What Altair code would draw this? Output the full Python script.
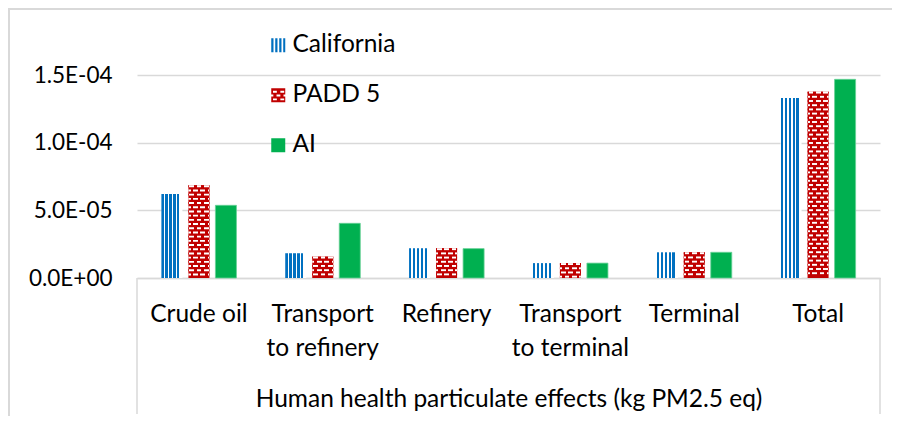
import altair as alt
import pandas as pd

categories = ["Crude oil", "Transport\nto refinery", "Refinery",
              "Transport\nto terminal", "Terminal", "Total"]
series = ["California", "PADD 5", "AI"]
california = [6.2e-5, 1.83e-5, 2.2e-5, 1.1e-5, 1.9e-5, 1.33e-4]
padd5 = [6.85e-5, 1.58e-5, 2.2e-5, 1.1e-5, 1.9e-5, 1.377e-4]
ai = [5.37e-5, 4.04e-5, 2.17e-5, 1.1e-5, 1.9e-5, 1.468e-4]
y_ticks = [0, 5e-5, 1e-4, 1.5e-4]
y_tick_labels = ["0.0E+00", "5.0E-05", "1.0E-04", "1.5E-04"]
colors = ["#0070C0", "#C00000", "#00B050"]
axis_title = "Human health particulate effects (kg PM2.5 eq)"

FONT = "Lato"
FS = 24.5
GRID = "#d9d9d9"
W, H = 743, 203
YMAX = 1.5e-4

rows = []
for cat, c, p, a in zip(categories, california, padd5, ai):
    rows.append({"category": cat, "series": "California", "value": c})
    rows.append({"category": cat, "series": "PADD 5", "value": p})
    rows.append({"category": cat, "series": "AI", "value": a})
df = pd.DataFrame(rows)

# brick texture rows for the PADD 5 bars (derived from the bar heights)
unit = YMAX / H
pitch = 4.2 * unit
thick = 1.9 * unit
brick = []
for cat, p in zip(categories, padd5):
    k = 0
    while p - k * pitch - thick > 0:
        hi = p - k * pitch
        brick.append({"category": cat, "series": "PADD 5", "lo": hi - thick,
                      "hi": hi, "parity": k % 2})
        k += 1
brick_df = pd.DataFrame(brick)


def stripes(spans, on, off):
    stops = [alt.GradientStop(offset=0, color=off)]
    for a, b in spans:
        stops += [alt.GradientStop(offset=a, color=off),
                  alt.GradientStop(offset=a, color=on),
                  alt.GradientStop(offset=b, color=on),
                  alt.GradientStop(offset=b, color=off)]
    stops.append(alt.GradientStop(offset=1, color=off))
    return alt.Gradient(gradient="linear", x1=0, x2=1, y1=0, y2=0, stops=stops)


cal_fill = stripes([(0, 0.11), (0.19, 0.30), (0.38, 0.49), (0.57, 0.68),
                    (0.75, 0.86)], colors[0], "#ffffff")
brick_even = stripes([(0.05, 0.27), (0.40, 0.62), (0.75, 0.97)], "#ffffff", colors[1])
brick_odd = stripes([(0.0, 0.10), (0.22, 0.45), (0.57, 0.80), (0.92, 1.0)],
                    "#ffffff", colors[1])

x_enc = alt.X(
    "category:N", sort=categories,
    scale=alt.Scale(domain=categories, paddingInner=0.394, paddingOuter=0.197),
    axis=alt.Axis(
        title=axis_title, labelAngle=0, ticks=False, domainColor=GRID,
        domainWidth=1.5, labelFont=FONT, labelFontSize=FS, labelColor="black",
        labelExpr="split(datum.label, '\\n')", labelLineHeight=34,
        labelPadding=24, labelBaseline="top", titleFont=FONT, titleFontSize=FS,
        titleFontWeight="normal", titleColor="black", titlePadding=28,
    ),
)
xoff_enc = alt.XOffset("series:N",
                       scale=alt.Scale(domain=series, paddingInner=0.222, paddingOuter=0))
label_expr = "[" + ",".join("'%s'" % s for s in y_tick_labels) + "][round(datum.value / 5e-5)]"
y_axis = alt.Axis(values=y_ticks, labelExpr=label_expr, domain=False, ticks=False,
                  gridColor=GRID, gridWidth=1.5, labelFont=FONT, labelFontSize=22.5,
                  labelColor="black", labelPadding=25, title=None)
y_scale = alt.Scale(domain=[0, YMAX], nice=False)

base = alt.Chart(df)

cal = base.transform_filter(alt.datum.series == "California").mark_bar(fill=cal_fill).encode(
    x=x_enc, xOffset=xoff_enc, y=alt.Y("value:Q", scale=y_scale, axis=y_axis))
padd = base.transform_filter(alt.datum.series == "PADD 5").mark_bar(fill=colors[1]).encode(
    x=x_enc, xOffset=xoff_enc, y=alt.Y("value:Q", scale=y_scale, axis=y_axis))
aib = base.transform_filter(alt.datum.series == "AI").mark_bar(
    fill=colors[2], stroke="#66d096", strokeWidth=0.8).encode(
    x=x_enc, xOffset=xoff_enc, y=alt.Y("value:Q", scale=y_scale, axis=y_axis))

br_even = alt.Chart(brick_df).transform_filter(alt.datum.parity == 0).mark_bar(
    fill=brick_even).encode(
    x=x_enc, xOffset=xoff_enc, y=alt.Y("lo:Q", scale=y_scale, axis=y_axis), y2="hi:Q")
br_odd = alt.Chart(brick_df).transform_filter(alt.datum.parity == 1).mark_bar(
    fill=brick_odd).encode(
    x=x_enc, xOffset=xoff_enc, y=alt.Y("lo:Q", scale=y_scale, axis=y_axis), y2="hi:Q")

cal_path = "M-1,-1h0.32v2h-0.32z M-0.43,-1h0.32v2h-0.32z M0.14,-1h0.32v2h-0.32z M0.71,-1h0.29v2h-0.29z"


def hole(x, y, w, h):
    return "M%s,%sV%sH%sV%sZ" % (x, y, y + h, x + w, y)


padd_path = ("M-1,-1H1V1H-1Z " + hole(-0.75, -0.65, 0.55, 0.28) + hole(0.3, -0.65, 0.55, 0.28)
             + hole(-0.25, -0.1, 0.55, 0.28) + hole(0.75, -0.1, 0.25, 0.28)
             + hole(-1, -0.1, 0.3, 0.28)
             + hole(-0.75, 0.45, 0.55, 0.28) + hole(0.3, 0.45, 0.55, 0.28))
ai_path = "M-1,-1H1V1H-1Z"

leg = alt.Legend(title=None, orient="none", legendX=129, legendY=-42, symbolSize=196,
                 symbolOpacity=1, symbolStrokeWidth=0, labelFont=FONT, labelFontSize=FS,
                 labelColor="black", rowPadding=25, labelOffset=2, padding=0)
legend_layer = base.mark_point(filled=True, opacity=0).encode(
    x=x_enc, xOffset=xoff_enc, y=alt.Y("value:Q", scale=y_scale, axis=y_axis),
    shape=alt.Shape("series:N", sort=series,
                    scale=alt.Scale(domain=series, range=[cal_path, padd_path, ai_path]),
                    legend=leg),
    fill=alt.Fill("series:N", sort=series,
                  scale=alt.Scale(domain=series, range=colors), legend=leg),
)

box = alt.Chart(pd.DataFrame({"side": [0]})).mark_rule(color=GRID, strokeWidth=1.5).encode(
    x=alt.value(0), y=alt.value(H), y2=alt.value(H + 136))
box_r = alt.Chart(pd.DataFrame({"side": [1]})).mark_rule(color=GRID, strokeWidth=1.5).encode(
    x=alt.value(W), y=alt.value(H), y2=alt.value(H + 136))
frame_l = alt.Chart(pd.DataFrame({"side": [2]})).mark_rule(color=GRID, strokeWidth=2).encode(
    x=alt.value(-128), y=alt.value(-67), y2=alt.value(H + 170))
frame_t = alt.Chart(pd.DataFrame({"side": [3]})).mark_rule(color=GRID, strokeWidth=2).encode(
    x=alt.value(-129), x2=alt.value(W + 20), y=alt.value(-66))

chart = alt.layer(cal, padd, br_even, br_odd, aib, legend_layer, box, box_r, frame_l, frame_t).properties(
    width=W, height=H,
    autosize=alt.AutoSizeParams(type="none"),
    padding={"left": 129, "top": 67, "right": 12, "bottom": 138},
    background="white",
).configure_view(stroke=None)

chart.save("out.html", embed_options={"renderer": "svg", "actions": False})
